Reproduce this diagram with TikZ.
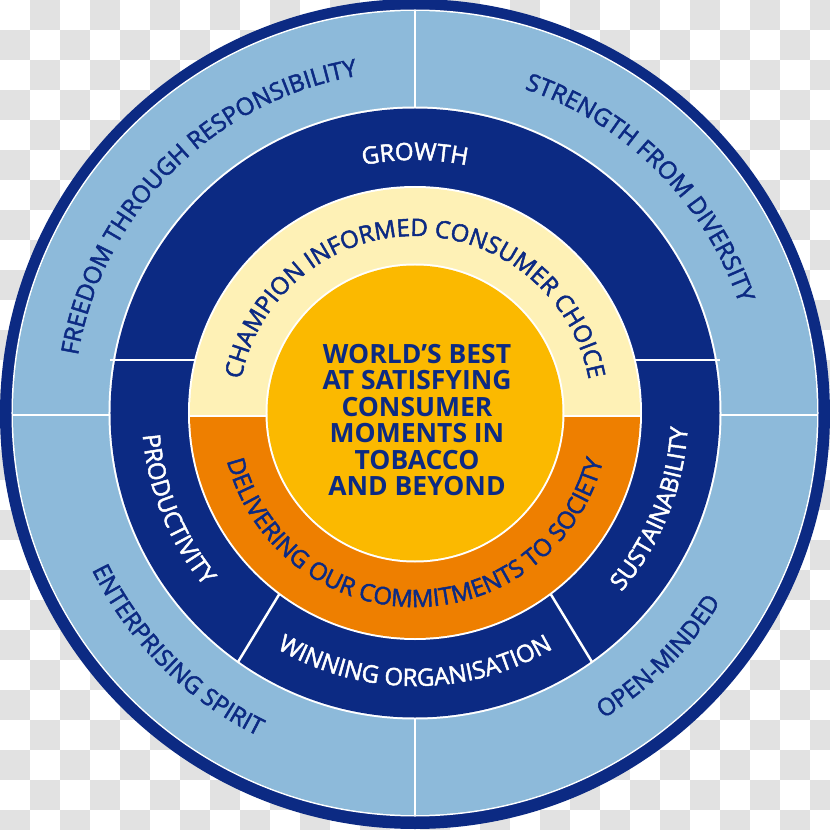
\documentclass[tikz,border=0pt]{standalone}
\usepackage{fontspec}
\setmainfont{Open Sans}
\newfontfamily\arcfont[FakeBold=2]{Open Sans}
\usetikzlibrary{decorations.text}
\definecolor{navy}{HTML}{0C2A83}
\definecolor{lightb}{HTML}{8DBADA}
\definecolor{cream}{HTML}{FEF1B6}
\definecolor{orng}{HTML}{EE7F00}
\definecolor{yell}{HTML}{FBB900}
\definecolor{checker}{HTML}{E2E2E2}
% #1 colour, #2 centre angle, #3 baseline radius, #4 font size, #5 text
\newcommand{\arcOut}[5]{%
  \path[decorate,decoration={text along path,text align=center,text color=#1,
    text={|\arcfont\fontsize{#4}{#4}\selectfont|#5}}]
    ({#2+88}:#3) arc[start angle={#2+88},end angle={#2-88},radius=#3];}
\newcommand{\arcIn}[5]{%
  \path[decorate,decoration={text along path,text align=center,text color=#1,
    text={|\arcfont\fontsize{#4}{#4}\selectfont|#5}}]
    ({#2-88}:#3) arc[start angle={#2-88},end angle={#2+88},radius=#3];}
\begin{document}
\begin{tikzpicture}[x=1pt,y=1pt,
  sep/.style={white,line width=2.5pt}]
\useasboundingbox (-415,413) rectangle (415,-417);
% checkerboard background
\begin{scope}
  \clip (-415,413) rectangle (415,-417);
  \fill[white] (-415,413) rectangle (415,-417);
  \foreach \i in {0,...,27}{%
    \pgfmathtruncatemacro\jo{1-mod(\i,2)}%
    \foreach \j in {0,...,13}{%
      \fill[checker] ({30*\i-415},{413-30*(2*\j+\jo)}) rectangle ++(30,-30);}}
\end{scope}
% outer ring
\fill[navy] (0,-1) circle[radius=415];
\fill[white] (0,0) circle[radius=403.5];
\fill[lightb] (0,0) circle[radius=402];
\draw[sep] (0,-402) -- (0,402);
\draw[sep] (-402,-2) -- (402,-2);
% middle ring
\fill[white] (0,0) circle[radius=306.5];
\fill[navy] (0,0) circle[radius=304.5];
\draw[sep] (-305,53) -- (305,53);
\draw[sep] (233:220) -- (234.6:306);
\draw[sep] (307:220) -- (305.4:306);
% inner ring
\fill[white] (0,0) circle[radius=227];
\begin{scope}
  \clip (-230,-3) rectangle (230,230);
  \fill[cream] (0,0) circle[radius=225];
\end{scope}
\begin{scope}
  \clip (-230,-3) rectangle (230,-230);
  \fill[orng] (0,0) circle[radius=225];
\end{scope}
\draw[white,line width=2pt] (-226,-3) -- (226,-3);
% core
\fill[white] (0,0) circle[radius=149.5];
\fill[yell] (0,0) circle[radius=147.5];
\node[text=navy,font=\bfseries\fontsize{26.5}{26.5}\selectfont,align=center,inner sep=0pt]
  (core) at (2,-7) {WORLD’S BEST\\AT SATISFYING\\CONSUMER\\MOMENTS IN\\TOBACCO\\AND BEYOND};
% texts, outer ring
\arcOut{navy}{135}{342}{24}{FREEDOM THROUGH RESPONSIBILITY}
\arcOut{navy}{45}{342}{24}{STRENGTH FROM DIVERSITY}
\arcIn{navy}{225}{359}{24}{ENTERPRISING SPIRIT}
\arcIn{navy}{315}{359}{24}{OPEN-MINDED}
% texts, middle ring
\arcOut{white}{90}{253}{24}{GROWTH}
\arcIn{white}{202}{273}{24}{PRODUCTIVITY}
\arcIn{white}{338}{273}{24}{SUSTAINABILITY}
\arcIn{white}{270}{273}{24}{WINNING ORGANISATION}
% texts, inner ring
\arcOut{navy}{90}{177}{24}{CHAMPION INFORMED CONSUMER CHOICE}
\arcIn{navy}{270}{194}{24}{DELIVERING OUR COMMITMENTS TO SOCIETY}
\end{tikzpicture}
\end{document}
